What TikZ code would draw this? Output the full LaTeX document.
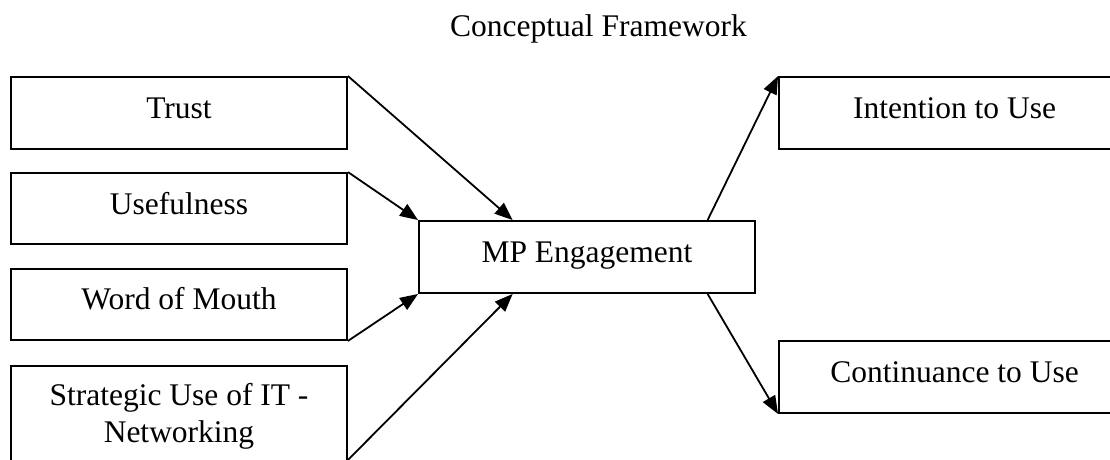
\documentclass[tikz,border=0pt]{standalone}
\usepackage{fontspec}
\setmainfont{Liberation Serif}
\usetikzlibrary{arrows.meta,calc}
\tikzset{
  box/.style={draw=black, line width=1.9pt, rectangle, inner sep=0pt, minimum width=336pt, minimum height=72pt},
  lbl/.style={anchor=base, inner sep=0pt, font=\fontsize{31.5}{37}\selectfont},
  conn/.style={line width=1.8pt, -{Triangle[length=18pt,width=14pt]}}
}
\begin{document}
\begin{tikzpicture}[x=1pt, y=-1pt]
\useasboundingbox (0,0) rectangle (1110,460);
\clip (0,0) rectangle (1110,460);
\fill[white] (0,0) rectangle (1110,460);
% title
\node[lbl] (title) at (598.5,37) {Conceptual Framework};
% boxes
\node[box] (trust) at (179,113) {};
\node[box, minimum height=71pt] (useful) at (179,208.5) {};
\node[box, minimum height=71pt] (wom) at (179,304.5) {};
\node[box, minimum height=96pt] (strat) at (179,414) {};
\node[box] (mp) at (587,257) {};
\node[box, minimum width=351pt] (intent) at (954.5,113) {};
\node[box, minimum width=351pt] (cont) at (954.5,377) {};
% labels
\node[lbl] (ttrust) at (179,118.3) {Trust};
\node[lbl] (tuseful) at (179,214.5) {Usefulness};
\node[lbl] (twom) at (179,309.5) {Word of Mouth};
\node[lbl] (tstrat1) at (179,405.7) {Strategic Use of IT -};
\node[lbl] (tstrat2) at (179,442.7) {Networking};
\node[lbl] (tmp) at (587,262) {MP Engagement};
\node[lbl] (tintent) at (954.5,118.3) {Intention to Use};
\node[lbl] (tcont) at (954.5,382) {Continuance to Use};
% anchor points
\coordinate (mpTopIn) at ($(mp.north west)!0.28!(mp.north east)$);
\coordinate (mpBotIn) at ($(mp.south west)!0.28!(mp.south east)$);
\coordinate (mpTopOut) at ($(mp.north west)!0.857!(mp.north east)$);
\coordinate (mpBotOut) at ($(mp.south west)!0.857!(mp.south east)$);
\coordinate (stratOut) at ($(strat.south east)+(0,-3)$);
% connectors
\draw[conn] (trust.north east) -- (mpTopIn);
\draw[conn] (useful.north east) -- (mp.north west);
\draw[conn] (wom.south east) -- (mp.south west);
\draw[conn] (stratOut) -- (mpBotIn);
\draw[conn] (mpTopOut) -- (intent.north west);
\draw[conn] (mpBotOut) -- (cont.south west);
\end{tikzpicture}
\end{document}
